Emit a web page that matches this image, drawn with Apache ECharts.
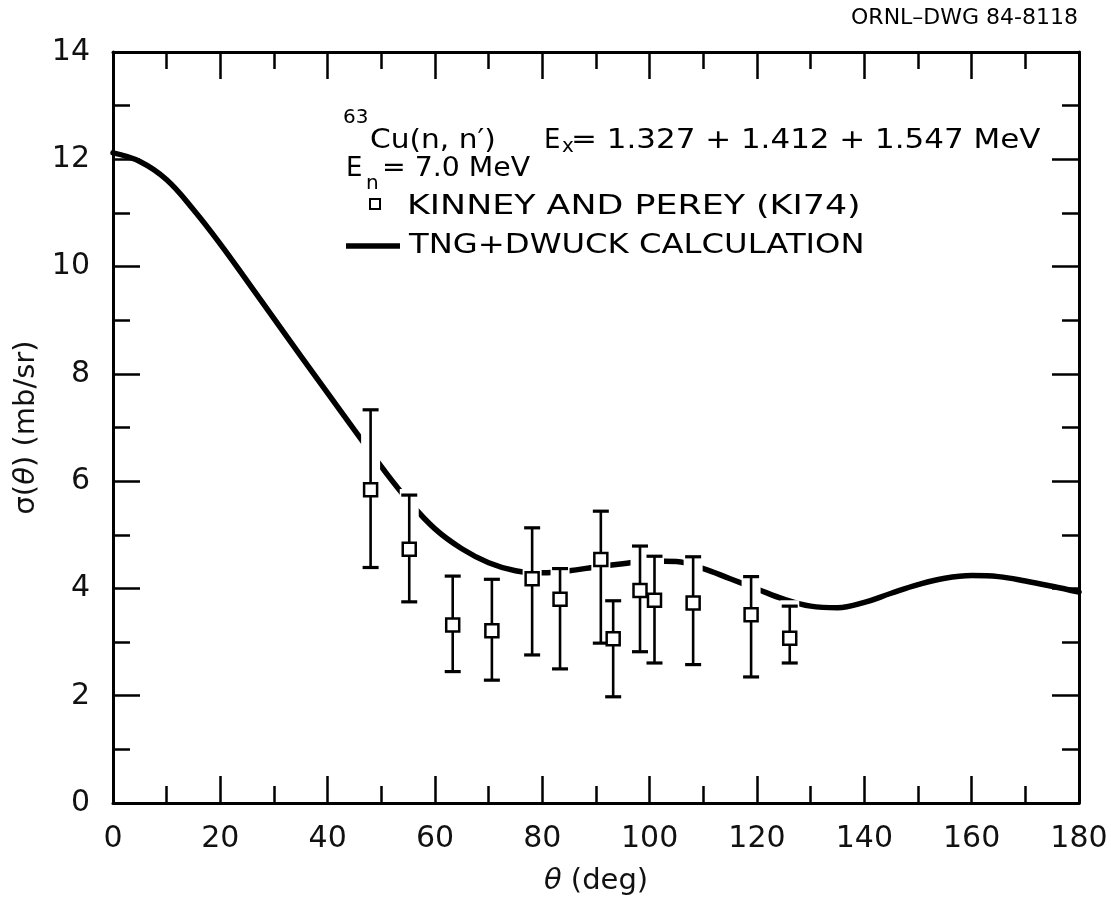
<!DOCTYPE html>
<html>
<head>
<meta charset="utf-8">
<title>63Cu(n,n') angular distribution</title>
<script src="https://cdn.jsdelivr.net/npm/echarts@6/dist/echarts.min.js"></script>
<style>
  html, body { margin: 0; padding: 0; background: #fff; }
  #chart { width: 1111px; height: 905px; }
</style>
</head>
<body>
<div id="chart"></div>
<script>
// Kinney and Perey (KI74) measured points: angle (deg), sigma (mb/sr), error limits
const angles    = [48.0, 55.2, 63.3, 70.6, 78.1, 83.3, 90.9, 93.2, 98.2, 100.9, 108.1, 118.9, 126.1];
const sigma     = [5.84, 4.73, 3.32, 3.21, 4.18, 3.80, 4.54, 3.06, 3.96, 3.78, 3.73, 3.51, 3.07];
const sigmaLow  = [4.39, 3.75, 2.45, 2.29, 2.76, 2.50, 2.98, 1.98, 2.82, 2.61, 2.58, 2.35, 2.61];
const sigmaHigh = [7.33, 5.74, 4.23, 4.17, 5.13, 4.37, 5.44, 3.77, 4.79, 4.60, 4.59, 4.22, 3.67];

// TNG + DWUCK calculation
const calcAngles = [0, 5, 10, 15, 20, 25, 30, 35, 40, 45, 50, 55, 60, 65, 70, 75, 80, 85, 90,
                    95, 100, 105, 110, 115, 120, 125, 130, 135, 140, 145, 150, 155, 160, 165, 170, 175, 180];
const calcSigma  = [12.12, 11.96, 11.62, 11.06, 10.42, 9.73, 9.03, 8.33, 7.64, 6.95, 6.27, 5.64, 5.11,
                    4.74, 4.48, 4.33, 4.29, 4.33, 4.40, 4.46, 4.51, 4.50, 4.37, 4.18, 3.99, 3.80, 3.67,
                    3.64, 3.74, 3.91, 4.07, 4.19, 4.24, 4.22, 4.14, 4.04, 3.93];

// Axis ranges and tick steps
const xRange = [0, 180], xStep = 20;
const yRange = [0, 14],  yStep = 2;

const FONT = 'DejaVu Sans';
const INK = '#000';

function axisBase(min, max, step, position, showLabels) {
  return {
    type: 'value',
    min: min, max: max, interval: step,
    position: position,
    axisLine: { show: true, onZero: false, lineStyle: { color: INK, width: 3 } },
    axisTick: { show: true, inside: true, length: 27, lineStyle: { color: INK, width: 2.5 } },
    minorTick: { show: true, splitNumber: 2, length: 17, lineStyle: { color: INK, width: 2.5 } },
    splitLine: { show: false },
    minorSplitLine: { show: false },
    axisLabel: {
      show: showLabels, showMinLabel: true, showMaxLabel: true,
      color: '#111', fontFamily: FONT, fontSize: 30, margin: 21
    }
  };
}

const xBottom = axisBase(xRange[0], xRange[1], xStep, 'bottom', true);
xBottom.name = '{i|θ} (deg)';
xBottom.nameLocation = 'middle';
xBottom.nameGap = 64;
xBottom.nameTextStyle = {
  color: '#111', fontFamily: FONT, fontSize: 29,
  rich: { i: { fontFamily: FONT, fontSize: 29, fontStyle: 'italic', color: '#111' } }
};
const xTop = axisBase(xRange[0], xRange[1], xStep, 'top', false);

const yLeft = axisBase(yRange[0], yRange[1], yStep, 'left', true);
yLeft.axisLabel.margin = 23;
yLeft.name = 'σ({i|θ}) (mb/sr)';
yLeft.nameLocation = 'middle';
yLeft.nameRotate = 90;
yLeft.nameGap = 64;
yLeft.nameTextStyle = {
  color: '#111', fontFamily: FONT, fontSize: 29,
  rich: { i: { fontFamily: FONT, fontSize: 29, fontStyle: 'italic', color: '#111' } }
};
const yRight = axisBase(yRange[0], yRange[1], yStep, 'right', false);

const pointData = angles.map((a, i) => [a, sigma[i], sigmaLow[i], sigmaHigh[i]]);
const curveData = calcAngles.map((a, i) => [a, calcSigma[i]]);

// Text block helpers
function txt(x, y, text, size, scaleX) {
  return {
    type: 'text', x: x, y: y, scaleX: scaleX || 1, z: 20,
    style: {
      x: 0, y: 0, text: text, fill: INK,
      font: size + 'px "' + FONT + '"',
      textAlign: 'left', textVerticalAlign: 'middle',
      align: 'left', verticalAlign: 'middle'
    }
  };
}

const graphics = [
  {
    type: 'text', x: 1078, y: 18, z: 20,
    style: {
      x: 0, y: 0, text: 'ORNL–DWG 84-8118', fill: INK,
      font: '22px "' + FONT + '"',
      textAlign: 'right', textVerticalAlign: 'middle', align: 'right', verticalAlign: 'middle'
    }
  },
  // reaction line
  txt(343, 118, '63', 20),
  txt(370, 141, 'Cu(n, n′)', 26, 1.14),
  txt(544, 141, 'E', 26),
  txt(562, 147, 'x', 20),
  txt(571, 141, '= 1.327 + 1.412 + 1.547 MeV', 26, 1.19),
  // incident energy
  txt(346, 169, 'E', 26),
  txt(366, 184, 'n', 20),
  txt(382, 169, '= 7.0 MeV', 26, 1.09),
  // legend entries
  {
    type: 'rect', z: 20,
    shape: { x: 370, y: 199, width: 10, height: 10 },
    style: { fill: '#fff', stroke: INK, lineWidth: 2 }
  },
  txt(407, 207, 'KINNEY AND PEREY (KI74)', 26, 1.34),
  {
    type: 'line', z: 20,
    shape: { x1: 346, y1: 246, x2: 400, y2: 246 },
    style: { stroke: INK, lineWidth: 5.5 }
  },
  txt(409, 246, 'TNG+DWUCK CALCULATION', 26, 1.24)
];

const option = {
  backgroundColor: '#fff',
  animation: false,
  grid: { left: 113, right: 32, top: 52, bottom: 102, containLabel: false, outerBoundsMode: 'none' },
  xAxis: [xBottom, xTop],
  yAxis: [yLeft, yRight],
  graphic: graphics,
  series: [
    {
      name: 'TNG+DWUCK CALCULATION',
      type: 'line',
      xAxisIndex: 0, yAxisIndex: 0,
      data: curveData,
      smooth: 0.4,
      symbol: 'none',
      lineStyle: { color: INK, width: 5.5, cap: 'round' },
      z: 2
    },
    {
      // white clearance where the curve passes behind an error bar
      name: 'clearance',
      type: 'custom',
      xAxisIndex: 0, yAxisIndex: 0,
      data: pointData,
      encode: { x: 0, y: 1 },
      z: 3,
      silent: true,
      renderItem: function (params, api) {
        const x = api.value(0);
        const top = api.coord([x, api.value(3)]);
        const bot = api.coord([x, api.value(2)]);
        return {
          type: 'line',
          shape: { x1: top[0], y1: top[1] - 6, x2: bot[0], y2: bot[1] + 6 },
          style: { stroke: '#fff', lineWidth: 19 }
        };
      }
    },
    {
      name: 'KINNEY AND PEREY (KI74)',
      type: 'custom',
      xAxisIndex: 0, yAxisIndex: 0,
      data: pointData,
      encode: { x: 0, y: 1 },
      z: 4,
      renderItem: function (params, api) {
        const x = api.value(0);
        const c = api.coord([x, api.value(1)]);
        const top = api.coord([x, api.value(3)]);
        const bot = api.coord([x, api.value(2)]);
        const cap = 8, half = 6.5;
        return {
          type: 'group',
          children: [
            { type: 'line', shape: { x1: c[0], y1: top[1], x2: c[0], y2: bot[1] },
              style: { stroke: INK, lineWidth: 2.6 } },
            { type: 'line', shape: { x1: c[0] - cap, y1: top[1], x2: c[0] + cap, y2: top[1] },
              style: { stroke: INK, lineWidth: 3.2 } },
            { type: 'line', shape: { x1: c[0] - cap, y1: bot[1], x2: c[0] + cap, y2: bot[1] },
              style: { stroke: INK, lineWidth: 3.2 } },
            { type: 'rect', shape: { x: c[0] - half, y: c[1] - half, width: 2 * half, height: 2 * half },
              style: { fill: '#fff', stroke: INK, lineWidth: 2.5 } }
          ]
        };
      }
    }
  ]
};

const chart = echarts.init(document.getElementById('chart'), null, { renderer: 'canvas' });
chart.setOption(option);
</script>
</body>
</html>
